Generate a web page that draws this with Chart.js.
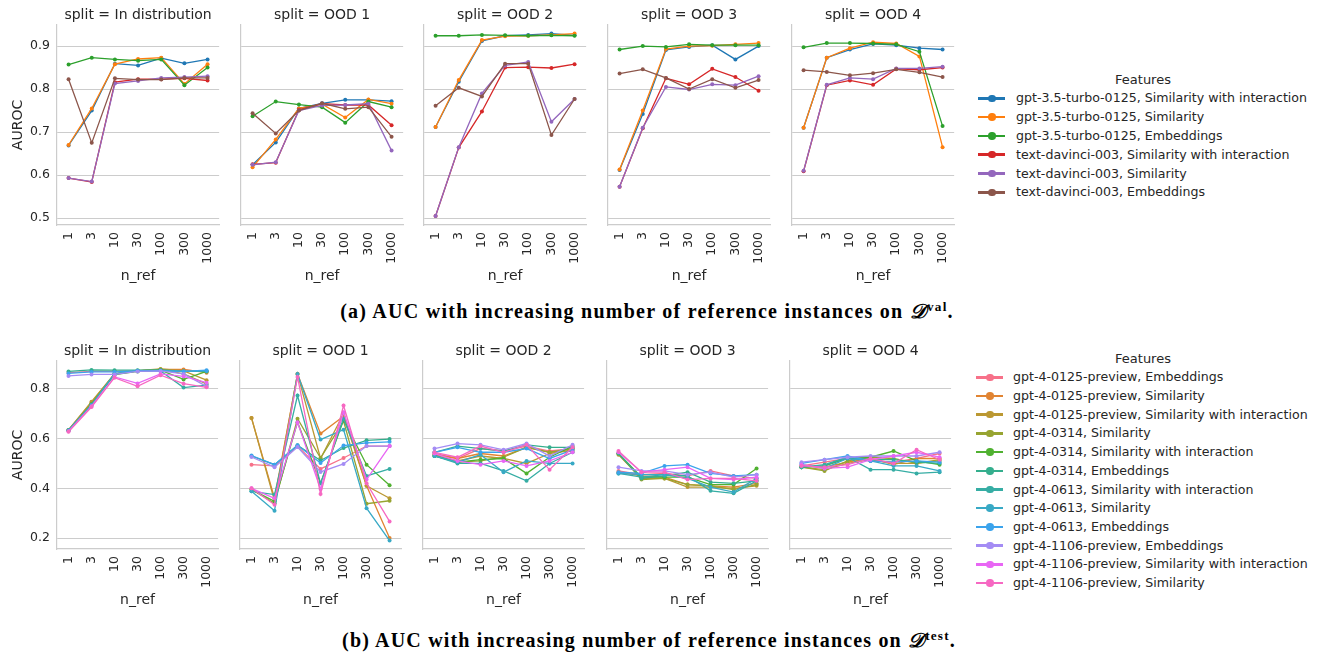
<!DOCTYPE html>
<html>
<head>
<meta charset="utf-8">
<script src="https://cdn.jsdelivr.net/npm/chart.js@4.4.1/dist/chart.umd.min.js"></script>
<style>
  body { margin: 0; background: #fff; width: 1324px; height: 656px; position: relative; overflow: hidden;
         font-family: "DejaVu Sans", sans-serif; color: #262626; }
  canvas { position: absolute; }
  .legend { position: absolute; font-size: 12.6px; white-space: nowrap; }
  .legend .ttl { position: absolute; font-size: 13px; transform: translate(-50%, -50%); }
  .legend .item { position: absolute; transform: translateY(-50%); line-height: 16px; }
  .legend .mk { position: absolute; width: 27px; height: 2.5px; }
  .legend .mk i { position: absolute; left: 10px; top: -2.5px; width: 7.5px; height: 7.5px; border-radius: 50%; background: inherit; }
  .cap { position: absolute; transform: translate(-50%, -50%); white-space: nowrap;
         font-family: "Liberation Serif", serif; font-weight: bold; font-size: 20px; color: #000; }
  .cap sup { font-size: 0.66em; }
</style>
</head>
<body>
<script>
// x categories and panels
const nRef = ['1', '3', '10', '30', '100', '300', '1000'];
const splits = ['In distribution', 'OOD 1', 'OOD 2', 'OOD 3', 'OOD 4'];

// tick labels
const valTicks = [0.5, 0.6, 0.7, 0.8, 0.9];
const testTicks = [0.2, 0.4, 0.6, 0.8];

// (a) D^val series, one row per split
const valNames = ['gpt-3.5-turbo-0125, Similarity with interaction', 'gpt-3.5-turbo-0125, Similarity',
  'gpt-3.5-turbo-0125, Embeddings', 'text-davinci-003, Similarity with interaction',
  'text-davinci-003, Similarity', 'text-davinci-003, Embeddings'];
const valColors = ['#1f77b4', '#ff7f0e', '#2ca02c', '#d62728', '#9467bd', '#8c564b'];

const valGpt35SimInter = [
  [0.669, 0.75, 0.859, 0.855, 0.872, 0.86, 0.869],
  [0.624, 0.676, 0.755, 0.767, 0.775, 0.775, 0.772],
  [0.712, 0.817, 0.912, 0.924, 0.926, 0.929, 0.925],
  [0.612, 0.742, 0.891, 0.898, 0.902, 0.869, 0.9],
  [0.71, 0.873, 0.892, 0.905, 0.902, 0.895, 0.892]];
const valGpt35Sim = [
  [0.67, 0.755, 0.858, 0.87, 0.873, 0.812, 0.858],
  [0.618, 0.683, 0.755, 0.765, 0.734, 0.776, 0.766],
  [0.712, 0.821, 0.914, 0.923, 0.924, 0.926, 0.929],
  [0.613, 0.75, 0.893, 0.9, 0.901, 0.904, 0.907],
  [0.71, 0.873, 0.895, 0.909, 0.906, 0.876, 0.665]];
const valGpt35Emb = [
  [0.857, 0.873, 0.869, 0.866, 0.869, 0.809, 0.85],
  [0.737, 0.771, 0.764, 0.758, 0.722, 0.771, 0.758],
  [0.924, 0.924, 0.926, 0.925, 0.924, 0.925, 0.924],
  [0.892, 0.9, 0.898, 0.904, 0.902, 0.902, 0.902],
  [0.897, 0.907, 0.907, 0.906, 0.904, 0.887, 0.714]];
const valDavinciSimInter = [
  [0.593, 0.584, 0.816, 0.823, 0.823, 0.825, 0.82],
  [0.625, 0.629, 0.752, 0.766, 0.763, 0.763, 0.716],
  [0.505, 0.664, 0.748, 0.85, 0.851, 0.849, 0.858],
  [0.573, 0.709, 0.825, 0.811, 0.847, 0.828, 0.796],
  [0.609, 0.809, 0.82, 0.81, 0.847, 0.845, 0.85]];
const valDavinciSim = [
  [0.593, 0.585, 0.813, 0.819, 0.826, 0.828, 0.83],
  [0.624, 0.63, 0.75, 0.762, 0.763, 0.766, 0.657],
  [0.505, 0.665, 0.79, 0.855, 0.863, 0.724, 0.777],
  [0.573, 0.71, 0.805, 0.799, 0.811, 0.809, 0.83],
  [0.61, 0.81, 0.826, 0.823, 0.848, 0.848, 0.852]];
const valDavinciEmb = [
  [0.823, 0.675, 0.825, 0.822, 0.822, 0.826, 0.826],
  [0.744, 0.697, 0.75, 0.767, 0.754, 0.758, 0.689],
  [0.761, 0.803, 0.783, 0.859, 0.859, 0.693, 0.777],
  [0.836, 0.846, 0.826, 0.8, 0.823, 0.803, 0.821],
  [0.844, 0.84, 0.832, 0.837, 0.846, 0.839, 0.828]];

// (b) D^test series
const testNames = ['gpt-4-0125-preview, Embeddings', 'gpt-4-0125-preview, Similarity',
  'gpt-4-0125-preview, Similarity with interaction', 'gpt-4-0314, Similarity',
  'gpt-4-0314, Similarity with interaction', 'gpt-4-0314, Embeddings',
  'gpt-4-0613, Similarity with interaction', 'gpt-4-0613, Similarity', 'gpt-4-0613, Embeddings',
  'gpt-4-1106-preview, Embeddings', 'gpt-4-1106-preview, Similarity with interaction',
  'gpt-4-1106-preview, Similarity'];
const testColors = ['#f77189', '#e18432', '#bb9832', '#97a431', '#50b131', '#34ae8d',
  '#36ada4', '#38a9c5', '#3ba3ec', '#a48cf4', '#e866f4', '#f668c2'];

const test0125Emb = [
  [0.865, 0.87, 0.87, 0.872, 0.875, 0.875, 0.87],
  [0.495, 0.49, 0.57, 0.478, 0.522, 0.57, 0.57],
  [0.54, 0.52, 0.56, 0.55, 0.57, 0.55, 0.56],
  [0.47, 0.455, 0.46, 0.45, 0.47, 0.45, 0.44],
  [0.49, 0.505, 0.52, 0.51, 0.505, 0.52, 0.54]];
const test0125Sim = [
  [0.635, 0.745, 0.86, 0.872, 0.878, 0.878, 0.865],
  [0.683, 0.36, 0.86, 0.62, 0.69, 0.41, 0.2],
  [0.535, 0.52, 0.54, 0.53, 0.565, 0.545, 0.55],
  [0.465, 0.45, 0.445, 0.415, 0.41, 0.405, 0.42],
  [0.49, 0.485, 0.505, 0.52, 0.495, 0.52, 0.52]];
const test0125SimInter = [
  [0.635, 0.748, 0.86, 0.873, 0.88, 0.872, 0.835],
  [0.683, 0.35, 0.86, 0.52, 0.7, 0.41, 0.36],
  [0.53, 0.51, 0.53, 0.52, 0.5, 0.54, 0.555],
  [0.535, 0.44, 0.44, 0.405, 0.405, 0.4, 0.41],
  [0.485, 0.475, 0.5, 0.515, 0.5, 0.5, 0.515]];
const test0314Sim = [
  [0.632, 0.74, 0.858, 0.872, 0.878, 0.86, 0.82],
  [0.395, 0.34, 0.68, 0.522, 0.67, 0.338, 0.35],
  [0.535, 0.505, 0.51, 0.525, 0.565, 0.545, 0.56],
  [0.54, 0.435, 0.44, 0.415, 0.41, 0.395, 0.415],
  [0.485, 0.47, 0.51, 0.525, 0.52, 0.5, 0.51]];
const test0314SimInter = [
  [0.633, 0.738, 0.857, 0.87, 0.875, 0.838, 0.87],
  [0.395, 0.348, 0.666, 0.42, 0.675, 0.495, 0.412],
  [0.53, 0.505, 0.515, 0.52, 0.46, 0.525, 0.57],
  [0.54, 0.445, 0.445, 0.445, 0.415, 0.415, 0.48],
  [0.485, 0.49, 0.52, 0.525, 0.55, 0.51, 0.495]];
const test0314Emb = [
  [0.87, 0.876, 0.875, 0.875, 0.876, 0.87, 0.87],
  [0.53, 0.495, 0.573, 0.512, 0.562, 0.593, 0.598],
  [0.545, 0.57, 0.56, 0.55, 0.575, 0.565, 0.565],
  [0.54, 0.44, 0.45, 0.465, 0.425, 0.42, 0.43],
  [0.485, 0.49, 0.525, 0.515, 0.515, 0.505, 0.5]];
const test0613SimInter = [
  [0.634, 0.735, 0.86, 0.872, 0.872, 0.805, 0.815],
  [0.388, 0.375, 0.773, 0.42, 0.68, 0.45, 0.478],
  [0.53, 0.5, 0.5, 0.47, 0.43, 0.5, 0.545],
  [0.46, 0.445, 0.455, 0.45, 0.39, 0.38, 0.43],
  [0.485, 0.495, 0.525, 0.475, 0.475, 0.46, 0.465]];
const test0613Sim = [
  [0.634, 0.736, 0.86, 0.873, 0.873, 0.87, 0.872],
  [0.388, 0.31, 0.86, 0.596, 0.636, 0.32, 0.19],
  [0.53, 0.505, 0.535, 0.465, 0.51, 0.5, 0.5],
  [0.46, 0.455, 0.455, 0.44, 0.405, 0.385, 0.44],
  [0.495, 0.48, 0.52, 0.51, 0.49, 0.49, 0.47]];
const test0613Emb = [
  [0.862, 0.868, 0.868, 0.872, 0.872, 0.87, 0.875],
  [0.532, 0.495, 0.573, 0.502, 0.572, 0.583, 0.587],
  [0.545, 0.565, 0.545, 0.545, 0.56, 0.52, 0.555],
  [0.465, 0.46, 0.49, 0.495, 0.46, 0.45, 0.455],
  [0.5, 0.515, 0.53, 0.51, 0.505, 0.51, 0.505]];
const test1106Emb = [
  [0.852, 0.858, 0.858, 0.87, 0.872, 0.86, 0.81],
  [0.526, 0.485, 0.566, 0.466, 0.498, 0.57, 0.57],
  [0.56, 0.58, 0.575, 0.555, 0.58, 0.53, 0.575],
  [0.485, 0.47, 0.47, 0.455, 0.465, 0.445, 0.455],
  [0.505, 0.515, 0.525, 0.53, 0.53, 0.53, 0.545]];
const test1106SimInter = [
  [0.63, 0.73, 0.848, 0.822, 0.86, 0.85, 0.825],
  [0.4, 0.36, 0.666, 0.397, 0.706, 0.435, 0.57],
  [0.54, 0.51, 0.495, 0.51, 0.49, 0.51, 0.545],
  [0.545, 0.465, 0.475, 0.485, 0.44, 0.435, 0.445],
  [0.495, 0.48, 0.485, 0.515, 0.53, 0.545, 0.525]];
const test1106Sim = [
  [0.627, 0.727, 0.845, 0.81, 0.855, 0.821, 0.806],
  [0.4, 0.334, 0.848, 0.377, 0.733, 0.42, 0.267],
  [0.545, 0.525, 0.57, 0.545, 0.575, 0.475, 0.565],
  [0.55, 0.465, 0.465, 0.435, 0.44, 0.44, 0.43],
  [0.49, 0.485, 0.495, 0.52, 0.5, 0.555, 0.515]];

const valSeries = [valGpt35SimInter, valGpt35Sim, valGpt35Emb, valDavinciSimInter, valDavinciSim, valDavinciEmb];
const testSeries = [test0125Emb, test0125Sim, test0125SimInter, test0314Sim, test0314SimInter, test0314Emb,
  test0613SimInter, test0613Sim, test0613Emb, test1106Emb, test1106SimInter, test1106Sim];

// draws "split = ..." centred over the plot area
const panelTitle = {
  id: 'panelTitle',
  afterDraw(chart, args, opts) {
    const { ctx, chartArea } = chart;
    ctx.save();
    ctx.font = '14px "DejaVu Sans"';
    ctx.fillStyle = '#262626';
    ctx.textAlign = 'center';
    ctx.textBaseline = 'middle';
    ctx.fillText(opts.text, (chartArea.left + chartArea.right) / 2, chartArea.top - 10);
    ctx.restore();
  }
};

function makePanel(row, col) {
  const r = row === 0
    ? { top: 0, padTop: 25, plotH: 200, lefts: [57, 241, 424, 608, 792], w: 167, min: 0.484, max: 0.949,
        ticks: valTicks, series: valSeries, names: valNames, colors: valColors }
    : { top: 330, padTop: 31, plotH: 188, lefts: [57, 240, 423, 607, 790], w: 166, min: 0.156, max: 0.912,
        ticks: testTicks, series: testSeries, names: testNames, colors: testColors };
  const axisW = col === 0 ? 57 : 8;
  const xAxisH = 64;
  const canvas = document.createElement('canvas');
  canvas.width = axisW + r.w + 6;
  canvas.height = r.padTop + r.plotH + xAxisH;
  canvas.style.left = (r.lefts[col] - axisW) + 'px';
  canvas.style.top = r.top + 'px';
  document.body.appendChild(canvas);

  const n = r.series.length;
  const datasets = r.series.map((s, i) => ({
    label: r.names[i],
    data: s[col],
    borderColor: r.colors[i],
    backgroundColor: r.colors[i],
    borderWidth: 1.3,
    pointRadius: 2,
    pointBorderWidth: 0,
    pointHoverRadius: 2,
    tension: 0,
    order: n - i // later series on top, as in the original
  }));

  new Chart(canvas, {
    type: 'line',
    data: { labels: nRef, datasets },
    plugins: [panelTitle],
    options: {
      responsive: false,
      animation: false,
      devicePixelRatio: 1,
      layout: { padding: { top: r.padTop, right: 6, left: 0, bottom: 0 } },
      plugins: {
        legend: { display: false },
        tooltip: { enabled: false },
        panelTitle: { text: 'split = ' + splits[col] }
      },
      scales: {
        x: {
          type: 'category',
          offset: true,
          grid: { display: false, drawTicks: false },
          border: { display: true, color: '#cccccc', width: 1.2 },
          ticks: { color: '#262626', font: { family: 'DejaVu Sans', size: 12.5 }, minRotation: 90, maxRotation: 90, padding: 7, autoSkip: false },
          title: { display: true, text: 'n_ref', color: '#262626', font: { family: 'DejaVu Sans', size: 14 }, padding: { top: 4, bottom: 4 } },
          afterFit: (s) => { s.height = xAxisH; }
        },
        y: {
          min: r.min,
          max: r.max,
          afterBuildTicks: (s) => { s.ticks = r.ticks.map(v => ({ value: v })); },
          grid: { color: '#cccccc', lineWidth: 1, drawTicks: false },
          border: { display: true, color: '#cccccc', width: 1.2 },
          ticks: { display: col === 0, color: '#262626', font: { family: 'DejaVu Sans', size: 12.5 }, padding: 7,
                   callback: (v) => v.toFixed(1) },
          title: { display: col === 0, text: 'AUROC', color: '#262626', font: { family: 'DejaVu Sans', size: 14 }, padding: { top: 10, bottom: 0 } },
          afterFit: (s) => { s.width = axisW; }
        }
      }
    }
  });
}

for (let row = 0; row < 2; row++) {
  for (let col = 0; col < 5; col++) makePanel(row, col);
}

// legends
function makeLegend(names, colors, titleY, firstY, step, mkX, textX) {
  const box = document.createElement('div');
  box.className = 'legend';
  box.style.left = '0px';
  box.style.top = '0px';
  const t = document.createElement('div');
  t.className = 'ttl';
  t.textContent = 'Features';
  t.style.left = '1143px';
  t.style.top = titleY + 'px';
  box.appendChild(t);
  names.forEach((name, i) => {
    const y = firstY + i * step;
    const mk = document.createElement('div');
    mk.className = 'mk';
    mk.style.left = mkX + 'px';
    mk.style.top = (y - 1.25) + 'px';
    mk.style.background = colors[i];
    mk.appendChild(document.createElement('i'));
    box.appendChild(mk);
    const it = document.createElement('div');
    it.className = 'item';
    it.style.left = textX + 'px';
    it.style.top = y + 'px';
    it.textContent = name;
    box.appendChild(it);
  });
  document.body.appendChild(box);
}
makeLegend(valNames, valColors, 79, 98.3, 18.8, 978, 1016);
makeLegend(testNames, testColors, 358, 377.3, 18.7, 976, 1013);

// captions, scaled to the width they have in the original figure
function caption(x, y, width, label, sup) {
  const d = document.createElement('div');
  d.className = 'cap';
  d.style.left = x + 'px';
  d.style.top = y + 'px';
  d.innerHTML = label + ' AUC with increasing number of reference instances on <span style="font-style:italic">\u{1D49F}</span><sup>' + sup + '</sup>.';
  document.body.appendChild(d);
  const w = d.getBoundingClientRect().width;
  d.style.letterSpacing = ((width - w) / d.textContent.length) + 'px';
}
caption(647, 311, 615, '(a)', 'val');
caption(649, 640, 615, '(b)', 'test');
</script>
</body>
</html>
